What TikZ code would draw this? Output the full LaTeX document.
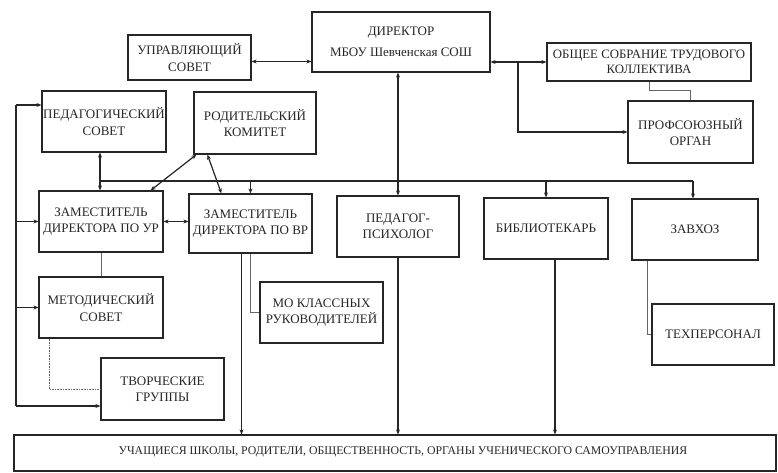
\documentclass[tikz,border=0pt]{standalone}
\usepackage{fontspec}
\setmainfont{Liberation Serif}
\usetikzlibrary{arrows.meta}
\begin{document}
\begin{tikzpicture}[x=1pt,y=-1pt,
  box/.style={draw=black!85, line width=1.2pt, align=center, inner sep=1pt, font=\fontsize{13}{16.5}\selectfont, text=black!85},
  conn/.style={draw=black!85, line width=1.2pt},
  arr/.style={conn, -{Stealth[length=5pt,width=4pt]}},
  darr/.style={conn, {Stealth[length=5pt,width=4pt]}-{Stealth[length=5pt,width=4pt]}},
  thinl/.style={draw=black!60, line width=0.6pt}
]
\useasboundingbox[fill=white] (0,0) rectangle (778,472);

\node[box, minimum width=178, minimum height=60, font=\fontsize{13}{21}\selectfont] (dir) at (401,42) {ДИРЕКТОР\\МБОУ Шевченская СОШ};
\node[box, minimum width=123, minimum height=45] (upr) at (189.5,57.5) {УПРАВЛЯЮЩИЙ\\СОВЕТ};
\node[box, minimum width=204, minimum height=38, font=\fontsize{12.8}{15}\selectfont] (obs) at (649,62) {ОБЩЕЕ СОБРАНИЕ ТРУДОВОГО\\КОЛЛЕКТИВА};
\node[box, minimum width=125, minimum height=62] (prof) at (690.5,132) {ПРОФСОЮЗНЫЙ\\ОРГАН};
\node[box, minimum width=124, minimum height=61] (ped) at (104,121.5) {ПЕДАГОГИЧЕСКИЙ\\СОВЕТ};
\node[box, minimum width=122, minimum height=62] (rod) at (255,123) {РОДИТЕЛЬСКИЙ\\КОМИТЕТ};
\node[box, minimum width=124, minimum height=61] (zur) at (101,221.5) {ЗАМЕСТИТЕЛЬ\\ДИРЕКТОРА ПО УР};
\node[box, minimum width=123, minimum height=59] (zvr) at (250.5,223.5) {ЗАМЕСТИТЕЛЬ\\ДИРЕКТОРА ПО ВР};
\node[box, minimum width=122, minimum height=61] (psy) at (398,226.5) {ПЕДАГОГ-\\ПСИХОЛОГ};
\node[box, minimum width=124, minimum height=61] (bib) at (546,228.5) {БИБЛИОТЕКАРЬ};
\node[box, minimum width=126, minimum height=61] (zav) at (695,229.5) {ЗАВХОЗ};
\node[box, minimum width=122, minimum height=61] (tex) at (713,334.5) {ТЕХПЕРСОНАЛ};
\node[box, minimum width=124, minimum height=61] (met) at (101,307.5) {МЕТОДИЧЕСКИЙ\\СОВЕТ};
\node[box, minimum width=123, minimum height=61] (mo) at (321.5,312.5) {МО КЛАССНЫХ\\РУКОВОДИТЕЛЕЙ};
\node[box, minimum width=123, minimum height=62] (tvo) at (162.5,389) {ТВОРЧЕСКИЕ\\ГРУППЫ};
\node[box, minimum width=762, minimum height=36, font=\fontsize{11.8}{14}\selectfont] (bot) at (395,453) {\raisebox{4pt}{\hspace*{16pt}УЧАЩИЕСЯ ШКОЛЫ, РОДИТЕЛИ, ОБЩЕСТВЕННОСТЬ, ОРГАНЫ УЧЕНИЧЕСКОГО САМОУПРАВЛЕНИЯ}};

% top connections
\coordinate (ua) at ([yshift=-4pt]upr.east);
\draw[darr] (ua) -- (ua -| dir.west);
\draw[darr] (dir.east |- obs.west) -- (obs.west);
\coordinate (j1) at (518,62);
\draw[arr] (j1) |- (prof.west);
\draw[thinl] (obs.south) -- ++(0,9) -| (prof.north);

% director trunk
\draw[darr] (dir.south -| psy.north) -- (psy.north);

% bus
\coordinate (bl) at (100,181);
\coordinate (br) at (693,181);
\draw[conn, line width=1.7pt] (bl) -- (br);
\draw[darr] (ped.south -| bl) -- (zur.north -| bl);
\draw[arr] (zvr.north |- bl) -- (zvr.north);
\draw[arr] (bib.north |- bl) -- (bib.north);
\draw[arr] (br) -- (br |- zav.north);

% parents committee
\draw[darr] ([xshift=3pt]rod.south west) -- ([xshift=-13pt]zur.north east);
\draw[darr] ([xshift=14pt]rod.south west) -- ([xshift=33pt]zvr.north west);

% deputies
\draw[darr] (zur.east) -- (zur.east -| zvr.west);
\draw[thinl] (zur.south) -- (met.north);
\draw[thinl] (zvr.south) |- (mo.west);
\coordinate (v1) at ([xshift=-9pt]zvr.south);
\draw[arr] (v1) -- (v1 |- bot.north);
\draw[arr] (psy.south) -- (psy.south |- bot.north);
\coordinate (v3) at ([xshift=9pt]bib.south);
\draw[arr] (v3) -- (v3 |- bot.north);
\coordinate (v4) at ([xshift=-48pt]zav.south);
\draw[thinl] (v4) |- (tex.west);
\coordinate (v5) at ([xshift=11pt]met.south west);
\draw[thinl, densely dotted] (v5) |- (tvo.west);

% left bus
\coordinate (lt) at (16,105);
\coordinate (lb) at (16,406);
\draw[conn] (lt) -- (lb);
\draw[arr] (lt) -- (lt -| ped.west);
\draw[arr] (zur.west -| lt) -- (zur.west);
\draw[arr] (met.west -| lt) -- (met.west);
\draw[arr] (lb) -- (lb -| tvo.west);
\end{tikzpicture}
\end{document}
